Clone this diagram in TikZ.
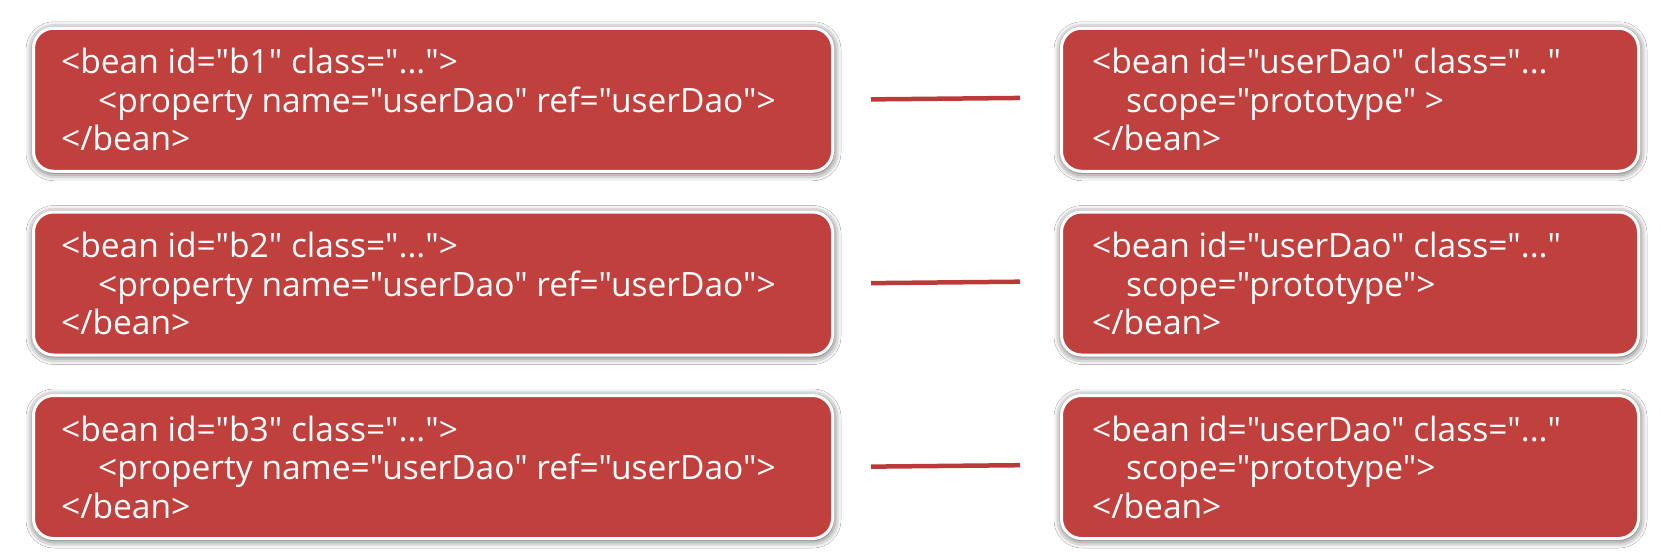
\documentclass[tikz,border=0pt]{standalone}
\usepackage{fontspec}
\setmainfont{Open Sans}[Ligatures=TeXOff]
\usetikzlibrary{shadows.blur}
\definecolor{boxred}{RGB}{192,64,61}
\definecolor{linered}{RGB}{186,58,58}
\tikzset{
  beanbox/.style={draw=white, line width=3pt, fill=boxred, rounded corners=20pt,
    blur shadow={shadow xshift=0.5pt, shadow yshift=-1.5pt, shadow blur radius=8pt, shadow opacity=80},
    minimum height=143pt, inner sep=0pt},
  leftbox/.style={beanbox, minimum width=799pt},
  rightbox/.style={beanbox, minimum width=577pt},
  code/.style={text=white, align=left, anchor=west, inner sep=0pt,
    font=\fontsize{33.5}{38.5}\selectfont},
  conn/.style={draw=linered, line width=4.5pt}
}
\begin{document}
\begin{tikzpicture}[x=1pt,y=-1pt]
\useasboundingbox[fill=white] (0,0) rectangle (1662,552);
% left boxes
\node[leftbox] (l1) at (433,99.75) {};
\node[leftbox] (l2) at (433,283.5) {};
\node[leftbox] (l3) at (433,467) {};
% right boxes
\node[rightbox] (r1) at (1350,99.75) {};
\node[rightbox] (r2) at (1350,283.5) {};
\node[rightbox] (r3) at (1350,467) {};
% texts
\node[code] (t1) at (61,99.75) {<bean id="b1" class="...">\\\hspace*{37pt}<property name="userDao" ref="userDao">\\</bean>};
\node[code] (t2) at (61,283.5) {<bean id="b2" class="...">\\\hspace*{37pt}<property name="userDao" ref="userDao">\\</bean>};
\node[code] (t3) at (61,467) {<bean id="b3" class="...">\\\hspace*{37pt}<property name="userDao" ref="userDao">\\</bean>};
\node[code] (u1) at (1092,99.75) {<bean id="userDao" class="..."\\\hspace*{34pt}scope="prototype" >\\</bean>};
\node[code] (u2) at (1092,283.5) {<bean id="userDao" class="..."\\\hspace*{34pt}scope="prototype">\\</bean>};
\node[code] (u3) at (1092,467) {<bean id="userDao" class="..."\\\hspace*{34pt}scope="prototype">\\</bean>};
% connectors
\draw[conn, shorten <=37pt, shorten >=40pt] (l1.east) -- ([yshift=2.2pt]r1.west);
\draw[conn, shorten <=37pt, shorten >=40pt] (l2.east) -- ([yshift=2.2pt]r2.west);
\draw[conn, shorten <=37pt, shorten >=40pt] (l3.east) -- ([yshift=2.2pt]r3.west);
\end{tikzpicture}
\end{document}
